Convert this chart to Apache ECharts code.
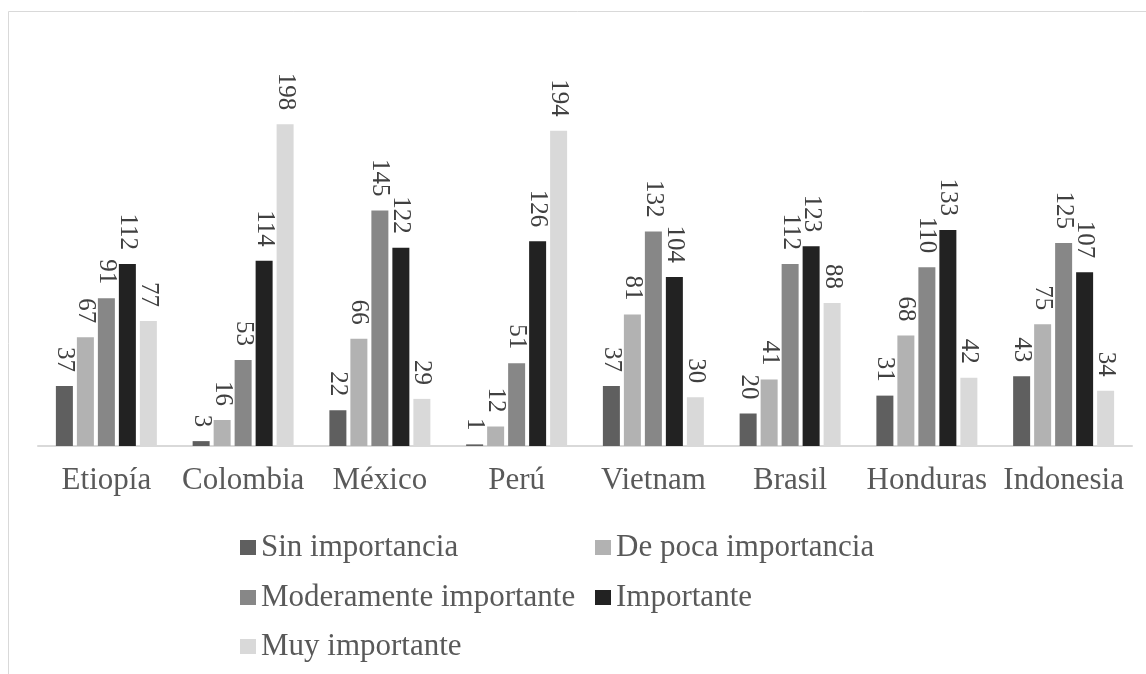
<!DOCTYPE html>
<html>
<head>
<meta charset="utf-8">
<script src="https://cdn.jsdelivr.net/npm/echarts@6/dist/echarts.min.js"></script>
<style>html,body{margin:0;padding:0;background:#fff;}#c{width:1146px;height:674px;}</style>
</head>
<body>
<div id="c"></div>
<script>
const categories = ['Etiopía','Colombia','México','Perú','Vietnam','Brasil','Honduras','Indonesia'];
const seriesNames = ['Sin importancia','De poca importancia','Moderamente importante','Importante','Muy importante'];
const sinImportancia = [37, 3, 22, 1, 37, 20, 31, 43];
const dePocaImportancia = [67, 16, 66, 12, 81, 41, 68, 75];
const moderamenteImportante = [91, 53, 145, 51, 132, 112, 110, 125];
const importante = [112, 114, 122, 126, 104, 123, 133, 107];
const muyImportante = [77, 198, 29, 194, 30, 88, 42, 34];
const seriesValues = [sinImportancia, dePocaImportancia, moderamenteImportante, importante, muyImportante];
const colors = ['#5f5f5f', '#b2b2b2', '#878787', '#222222', '#d9d9d9'];

const FONT = '"Liberation Serif", "Times New Roman", serif';
const chart = echarts.init(document.getElementById('c'));

const legendPos = [
  {left: 240, top: 532},
  {left: 595, top: 532},
  {left: 240, top: 582},
  {left: 595, top: 582},
  {left: 240, top: 631}
];

const option = {
  backgroundColor: '#ffffff',
  animation: false,
  graphic: [{
    type: 'rect',
    shape: {x: 8.5, y: 11.5, width: 1300, height: 800},
    style: {fill: 'none', stroke: '#d9d9d9', lineWidth: 1},
    silent: true,
    z: -10
  }],
  grid: {left: 38, right: 14, top: 121, bottom: 228, containLabel: false},
  xAxis: {
    type: 'category',
    data: categories,
    axisLine: {show: true, lineStyle: {color: '#d9d9d9', width: 2}},
    axisTick: {show: false},
    axisLabel: {color: '#595959', fontFamily: FONT, fontSize: 31, margin: 19, interval: 0}
  },
  yAxis: {
    type: 'value',
    min: 0, max: 200,
    show: false,
    splitLine: {show: false}
  },
  legend: seriesNames.map((n, i) => ({
    data: [n],
    left: legendPos[i].left,
    top: legendPos[i].top,
    padding: 0,
    icon: 'rect',
    itemWidth: 16,
    itemHeight: 15,
    selectedMode: false,
    textStyle: {color: '#595959', fontFamily: FONT, fontSize: 31, lineHeight: 30, padding: [0,0,0,0]}
  })),
  series: seriesNames.map((n, i) => ({
    name: n,
    type: 'bar',
    data: seriesValues[i],
    barWidth: 17,
    barGap: '23.5%',
    itemStyle: {color: colors[i]},
    label: {
      show: true,
      position: 'top',
      distance: 14,
      rotate: -90,
      align: 'right',
      verticalAlign: 'middle',
      color: '#404040',
      fontFamily: FONT,
      fontSize: 25
    }
  }))
};
chart.setOption(option);
</script>
</body>
</html>
